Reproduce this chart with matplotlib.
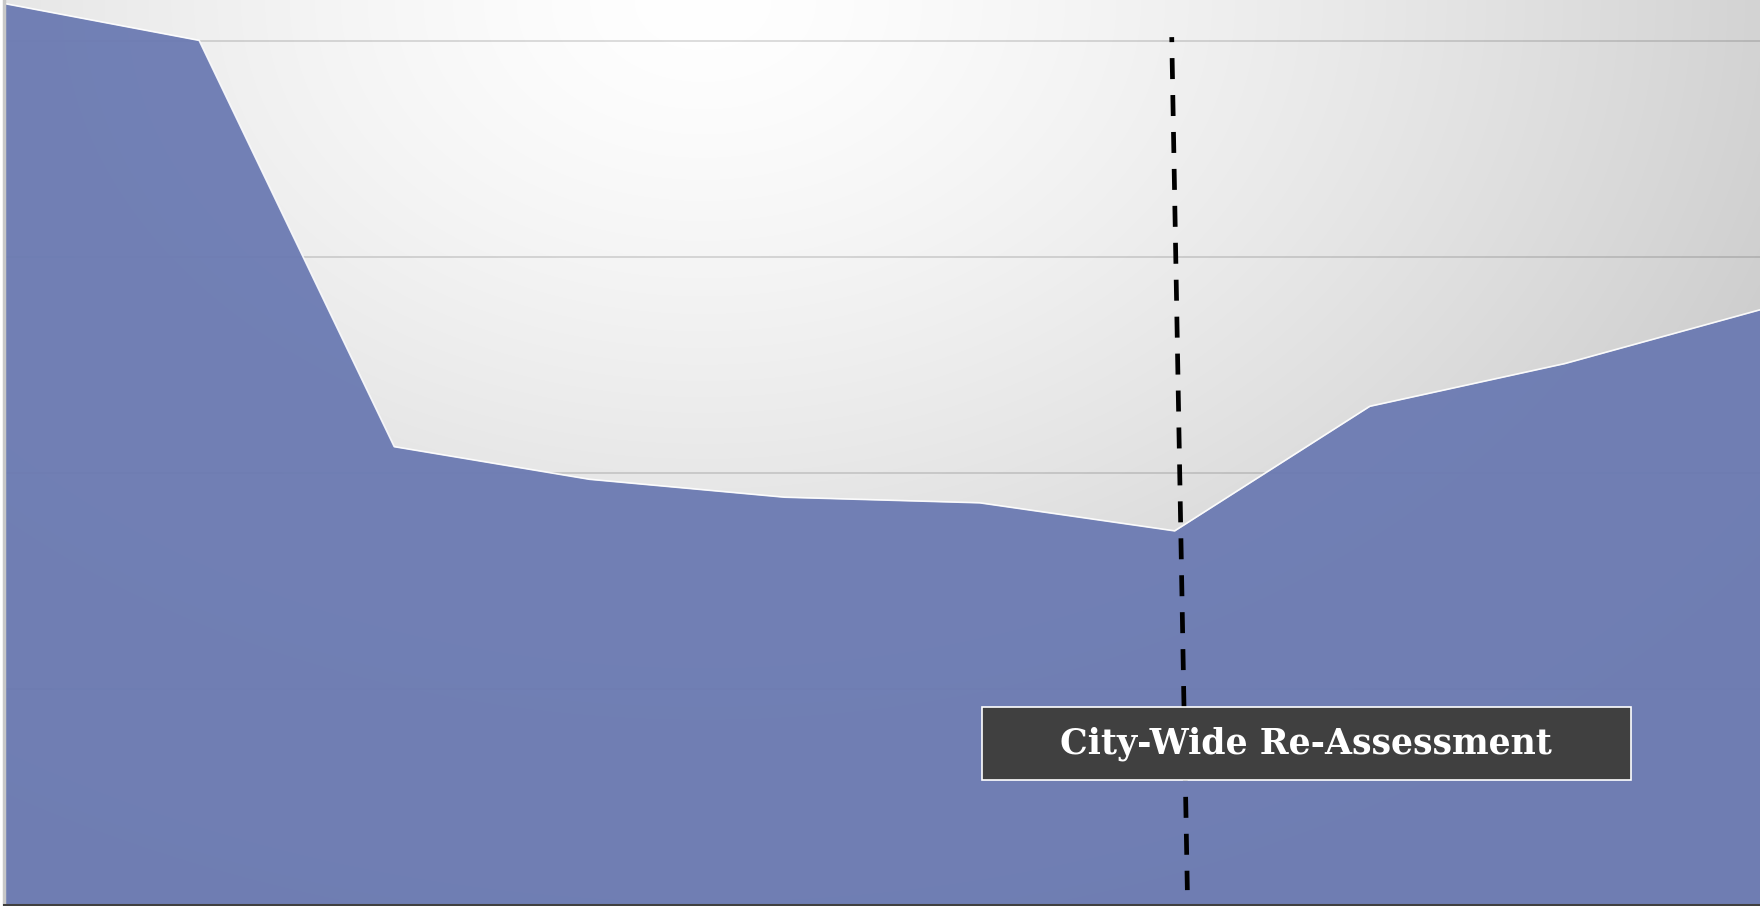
import numpy as np
import matplotlib
matplotlib.use("Agg")
import matplotlib.pyplot as plt
from matplotlib.patches import Rectangle

plt.rcParams["lines.scale_dashes"] = False

# ---- data ----
periods = list(range(10))
values = [4176, 4005, 2123, 1972, 1889, 1863, 1733, 2310, 2508, 2757]
grid_values = [1000, 2000, 3000, 4000]
y_max = 4192
annotation_label = "City-Wide Re-Assessment"
reassessment_x = (5.985, 6.065)   # slightly slanted marker line
reassessment_y = (4020, 69)

W, H, DPI = 1760, 906, 100
fig = plt.figure(figsize=(W / DPI, H / DPI), dpi=DPI)
fig.patch.set_facecolor("white")
ax = fig.add_axes([4 / W, 1 / H, 1 - 4 / W, 1 - 1 / H])

# radial gradient background
ny, nx = 300, 600
yy, xx = np.mgrid[0:ny, 0:nx]
px = xx / (nx - 1) * W
py = yy / (ny - 1) * H
cx, cy = 700, 0
r = np.sqrt((px - cx) ** 2 + (1.4 * (py - cy)) ** 2)
g = 255 - 0.00293 * r ** 1.38
g = np.clip(g, 195, 255) / 255.0
img = np.dstack([g, g, g])
ax.imshow(img, extent=[0, 1, 0, 1], transform=ax.transAxes, aspect="auto",
          origin="upper", zorder=0, interpolation="bicubic")

ax.set_xlim(periods[0], periods[-1])
ax.set_ylim(0, y_max)

for gv in grid_values:
    ax.axhline(gv, color="black", alpha=0.13, lw=1.45, zorder=1)

ax.fill_between(periods, values, 0, color="#6b7ab2", alpha=0.95, lw=0, zorder=2)
ax.plot(periods, values, color="white", lw=1.2, alpha=0.9, zorder=3)

# dashed marker line
ax.plot(reassessment_x, reassessment_y, color="black", lw=3.4, zorder=4,
        linestyle=(11.5, (15.1, 11.5)), dash_capstyle="butt")

# annotation box
bx0, bx1 = 5.011, 8.339
by0, by1 = 579, 917
ax.add_patch(Rectangle((bx0, by0), bx1 - bx0, by1 - by0, facecolor="#404040",
                       edgecolor="white", lw=1.2, zorder=5))
ax.text((bx0 + bx1) / 2, (by0 + by1) / 2 + 18, annotation_label, color="white",
        fontsize=25, fontweight="bold", family="DejaVu Serif",
        ha="center", va="center_baseline", zorder=6)

ax.set_xticks([])
ax.set_yticks([])
for s in ("top", "right"):
    ax.spines[s].set_visible(False)
ax.spines["left"].set_color("#c8c8c8")
ax.spines["left"].set_linewidth(2.5)
ax.spines["bottom"].set_color("#404040")
ax.spines["bottom"].set_linewidth(2.2)
for s in ax.spines.values():
    s.set_zorder(7)

fig.savefig("out.png", dpi=DPI)
